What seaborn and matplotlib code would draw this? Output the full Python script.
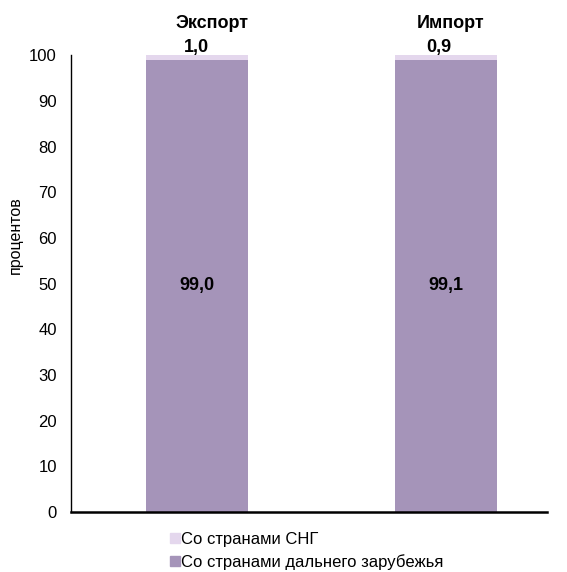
import numpy as np
import pandas as pd
import matplotlib.pyplot as plt
import seaborn as sns

categories = ['Экспорт', 'Импорт']
far_abroad = [99.0, 99.1]
cis = [1.0, 0.9]
far_labels = ['99,0', '99,1']
cis_labels = ['1,0', '0,9']
series_names = ['Со странами СНГ', 'Со странами дальнего зарубежья']
yticks = [0, 10, 20, 30, 40, 50, 60, 70, 80, 90, 100]

sns.set_style('white')
plt.rcParams['font.family'] = ['Liberation Sans', 'DejaVu Sans']
plt.rcParams['text.color'] = 'black'
plt.rcParams['axes.labelcolor'] = 'black'
plt.rcParams['ytick.color'] = 'black'

c_far = '#a594b9'
c_cis = '#e4d7ed'

fig = plt.figure(figsize=(5.67, 5.72), dpi=100)
ax = fig.add_axes([0.125, 0.105, 0.84, 0.798])

df = pd.DataFrame({'cat': categories, 'far': far_abroad, 'cis': cis})
df['total'] = df['far'] + df['cis']

sns.barplot(data=df, x='cat', y='total', color=c_cis, width=0.41, saturation=1,
            linewidth=0, ax=ax)
sns.barplot(data=df, x='cat', y='far', color=c_far, width=0.41, saturation=1,
            linewidth=0, ax=ax)
for p in ax.patches:
    p.set_clip_on(False)

# small horizontal nudges to match the original label placement
title_dx = [0.06, 0.02]
cis_dx = [0.0, -0.03]
for i in range(len(categories)):
    ax.text(i, far_abroad[i] / 2, far_labels[i], ha='center', va='center',
            fontsize=13, fontweight='bold')
    ax.text(i + cis_dx[i], 100.8, cis_labels[i], ha='center', va='baseline',
            fontsize=13, fontweight='bold', clip_on=False)
    ax.text(i + title_dx[i], 106.1, categories[i], ha='center', va='baseline',
            fontsize=13, fontweight='bold', clip_on=False)

ax.set_xlim(-0.506, 1.406)
ax.set_ylim(0, 100)
ax.set_yticks(yticks)
ax.set_yticklabels([str(t) for t in yticks], fontsize=12)
ax.set_xticks([])
ax.set_xlabel('')
ax.set_ylabel('процентов', fontsize=11.5)
ax.yaxis.set_label_coords(-0.1, 0.607)
ax.tick_params(axis='y', length=0, pad=10)

for s in ['top', 'right']:
    ax.spines[s].set_visible(False)
ax.spines['left'].set_color('black')
ax.spines['left'].set_linewidth(1.0)
ax.spines['bottom'].set_color('black')
ax.spines['bottom'].set_linewidth(1.8)

handles = [plt.Rectangle((0, 0), 1, 1, color=c_cis),
           plt.Rectangle((0, 0), 1, 1, color=c_far)]
fig.legend(handles, series_names, loc='upper left', bbox_to_anchor=(0.285, 0.085),
           frameon=False, fontsize=12, handlelength=0.6, handleheight=0.6,
           handletextpad=0.05, labelspacing=0.45, borderpad=0)

fig.savefig('out.png', dpi=100)
